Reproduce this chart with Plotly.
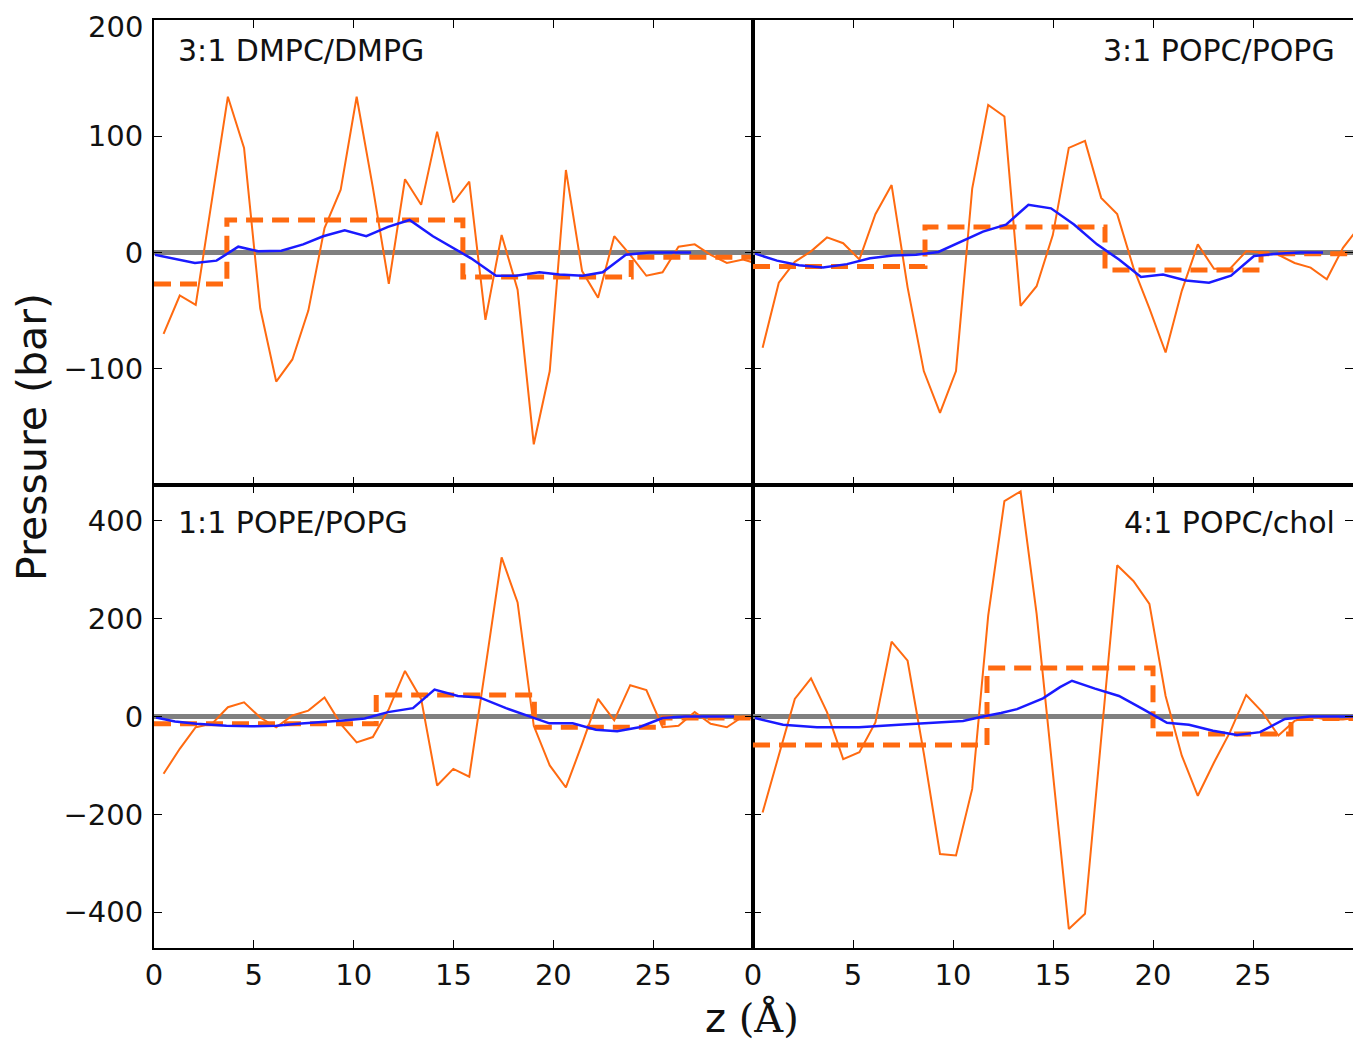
import plotly.graph_objects as go

# ---------------- data ----------------
# fine grid (thin orange profile), Å
Z_FINE = [0.48, 1.29, 2.09, 2.90, 3.70, 4.51, 5.32, 6.12, 6.93, 7.73, 8.54, 9.35,
          10.15, 10.96, 11.76, 12.57, 13.38, 14.18, 14.99, 15.79, 16.60, 17.41,
          18.21, 19.02, 19.82, 20.63, 21.44, 22.24, 23.05, 23.85, 24.66, 25.47,
          26.27, 27.08, 27.88, 28.69, 29.50, 30.30]

# thin orange profiles (bar)
P_DMPC = [-70, -37, -45, 45, 134, 90, -48, -111, -92, -50, 21, 54, 134, 56, -27, 63,
          41, 104, 43, 61, -58, 15, -32, -165, -102, 71, -16, -39, 14, -2, -20, -17,
          5, 7, -2, -9, -6, -10]
P_POPC_POPG = [-82, -26, -8, 1, 13, 8, -6, 33, 58, -30, -102, -138, -102, 55, 127, 117,
               -46, -29, 15, 90, 96, 47, 33, -13, -48, -86, -33, 7, -14, -14, 1, 0,
               -2, -9, -13, -23, 4, 22]
P_POPE = [-117, -66, -22, -15, 19, 29, -2, -22, 2, 12, 39, -15, -53, -42, 15, 93, 36,
          -141, -107, -123, 100, 325, 233, -19, -100, -145, -56, 36, -8, 64, 54, -22,
          -19, 9, -15, -22, 0, -5]
P_CHOL = [-196, -80, 36, 78, 9, -87, -73, -12, 153, 114, -75, -281, -284, -148, 206,
          440, 460, 210, -110, -434, -403, -50, 309, 277, 230, 42, -80, -162, -94, -32,
          44, 9, -39, -9, 0, -6, -6, -2]

# smooth (blue) profiles
ZB_DMPC = [0.05, 1.1, 2.05, 3.13, 4.22, 5.22, 6.38, 7.47, 8.47, 9.55, 10.63, 11.72,
           12.8, 13.97, 14.9, 15.88, 17.13, 18.13, 19.3, 20.3, 21.47, 22.47, 23.63,
           24.8, 25.8, 26.9]
PB_DMPC = [-2, -6, -9, -7, 5, 1, 1.5, 7, 14, 19, 14, 22, 28, 14, 5, -5, -20, -20, -17,
           -19, -20, -17, -2, 0, 0, 0]
ZB_POPC_POPG = [0.1, 1.2, 2.3, 3.5, 4.7, 5.85, 7.0, 8.15, 9.27, 10.35, 11.5, 12.65,
                13.77, 14.9, 16.05, 17.2, 18.3, 19.4, 20.5, 21.65, 22.8, 23.9, 25.05,
                26.2, 27.35, 28.5]
PB_POPC_POPG = [-1, -7, -11, -13, -10, -5, -2.5, -2, 0.5, 9, 18, 24, 41, 38, 24, 7, -6,
                -21, -19, -24, -26, -20, -3, -1, 0, 0]
ZB_POPE = [0.1, 1.05, 2.13, 3.63, 4.88, 6.13, 7.2, 8.3, 9.47, 10.55, 11.72, 12.97,
           14.05, 15.22, 16.3, 17.63, 18.8, 19.8, 20.97, 22.13, 23.2, 24.3, 25.47,
           26.6, 27.8, 29.05]
PB_POPE = [-2, -10, -15, -19, -20, -19, -15, -12, -8, -4, 9, 17, 55, 42, 39, 17, 0, -14,
           -14, -27, -30, -22, -3, 0, 0, 0]
ZB_CHOL = [0.1, 1.5, 3.2, 5.3, 7.3, 9.2, 10.5, 11.5, 12.4, 13.2, 14.5, 15.35, 15.95,
           17.1, 18.3, 19.5, 20.7, 21.8, 23.0, 24.2, 25.35, 26.6, 27.85, 29.0, 30.0]
PB_CHOL = [-3, -17, -22, -22, -17, -12, -9, 0, 7, 15, 37, 60, 73, 57, 42, 15, -13, -17,
           -29, -38, -32, -5, 0, 0, 0]

# region-averaged (dashed step) profiles: region edges and levels
ZS_DMPC = [0, 3.65, 15.47, 23.9, 30]
PS_DMPC = [-27, 28, -21, -4, -4]
ZS_POPC_POPG = [0, 8.6, 17.6, 25.4, 30]
PS_POPC_POPG = [-12, 22, -15, -1, -1]
ZS_POPE = [0, 11.13, 19.05, 25.5, 30]
PS_POPE = [-15, 44, -22, -3, -3]
ZS_CHOL = [0, 11.7, 20.0, 26.9, 30]
PS_CHOL = [-58, 99, -36, -4, -4]

LABELS = ["3:1 DMPC/DMPG", "3:1 POPC/POPG", "1:1 POPE/POPG", "4:1 POPC/chol"]
X_TICKS = [0, 5, 10, 15, 20, 25]
Y_TICKS_TOP = [-100, 0, 100, 200]
Y_TEXT_TOP = ["\u2212100", "0", "100", ""]   # "200" drawn as a separate text (see below)
Y_TOP_LABEL = "200"
Y_TICKS_BOT = [-400, -200, 0, 200, 400]

panels = [
    (P_DMPC, ZB_DMPC, PB_DMPC, ZS_DMPC, PS_DMPC),
    (P_POPC_POPG, ZB_POPC_POPG, PB_POPC_POPG, ZS_POPC_POPG, PS_POPC_POPG),
    (P_POPE, ZB_POPE, PB_POPE, ZS_POPE, PS_POPE),
    (P_CHOL, ZB_CHOL, PB_CHOL, ZS_CHOL, PS_CHOL),
]

# ---------------- styling ----------------
W, H = 1361, 1046
OFF = 8  # page body margin offset
ORANGE = "#FF6A10"
BLUE = "#1A1AFF"
GRAY = "#808080"
FONT = "DejaVu Sans"


def fx(px):
    return (px - OFF) / W


def fy(py):
    return 1 - (py - OFF) / H


px_x = [(154, 753), (753, 1353)]
px_y = [(20, 485), (485, 948)]

fig = go.Figure()

for k, (pf, zb, pb, zs, ps) in enumerate(panels):
    r, c = divmod(k, 2)
    n = k + 1
    xa = "x" if n == 1 else f"x{n}"
    ya = "y" if n == 1 else f"y{n}"
    fig.add_trace(go.Scatter(x=[0, 30], y=[0, 0], xaxis=xa, yaxis=ya, mode="lines",
                             line=dict(color=GRAY, width=5), hoverinfo="skip"))
    fig.add_trace(go.Scatter(x=Z_FINE, y=pf, xaxis=xa, yaxis=ya, mode="lines",
                             line=dict(color=ORANGE, width=2)))
    fig.add_trace(go.Scatter(x=zs, y=ps, xaxis=xa, yaxis=ya, mode="lines",
                             line=dict(color=ORANGE, width=5, dash="17px,9px", shape="hv")))
    fig.add_trace(go.Scatter(x=zb, y=pb, xaxis=xa, yaxis=ya, mode="lines",
                             line=dict(color=BLUE, width=2.5)))

    x0, x1 = px_x[c]
    y0, y1 = px_y[r]
    common = dict(showline=True, linecolor="black", linewidth=2, mirror="ticks",
                  ticks="inside", ticklen=8, tickwidth=1.2, tickcolor="black",
                  showgrid=False, zeroline=False, automargin=False,
                  ticklabeloverflow="allow",
                  tickfont=dict(family=FONT, size=29, color="#111"))
    fig.layout[("xaxis" if n == 1 else f"xaxis{n}")] = dict(
        common, domain=[fx(x0), fx(x1)], range=[0, 30], tickvals=X_TICKS,
        showticklabels=(r == 1), anchor=ya, ticklabelstandoff=0)
    yax = dict(common, domain=[fy(y1), fy(y0)],
               range=[-200, 200] if r == 0 else [-473, 473],
               tickvals=Y_TICKS_TOP if r == 0 else Y_TICKS_BOT,
               showticklabels=(c == 0), anchor=xa, ticklabelstandoff=3)
    if r == 0:
        yax["ticktext"] = Y_TEXT_TOP
    fig.layout[("yaxis" if n == 1 else f"yaxis{n}")] = yax

annotations = []
label_pos = [(176, 51, "left"), (1337, 51, "right"), (176, 522, "left"), (1337, 522, "right")]
for (lx, ly, anc), text in zip(label_pos, LABELS):
    annotations.append(dict(x=fx(lx), y=fy(ly), xref="paper", yref="paper",
                            text=text, showarrow=False, xanchor=anc, yanchor="middle",
                            font=dict(family=FONT, size=30, color="#111")))
# top "200" tick label, kept inside the page
annotations.append(dict(x=fx(145), y=1.0, xref="paper", yref="paper",
                        text=Y_TOP_LABEL, showarrow=False, xanchor="right", yanchor="top",
                        font=dict(family=FONT, size=29, color="#111")))
annotations.append(dict(x=fx(32), y=fy(437), xref="paper", yref="paper",
                        text="Pressure (bar)", textangle=-90, showarrow=False,
                        xanchor="center", yanchor="middle",
                        font=dict(family=FONT, size=41, color="#111")))
annotations.append(dict(x=fx(752), y=fy(1018), xref="paper", yref="paper",
                        text="z <span style='font-family:DejaVu Serif'>(Å)</span>",
                        showarrow=False, xanchor="center", yanchor="middle",
                        font=dict(family=FONT, size=40, color="#111")))

fig.update_layout(template="none", width=W, height=H, margin=dict(l=0, r=0, t=0, b=0),
                  paper_bgcolor="white", plot_bgcolor="white", showlegend=False,
                  annotations=annotations)

fig.write_html("out.html")
